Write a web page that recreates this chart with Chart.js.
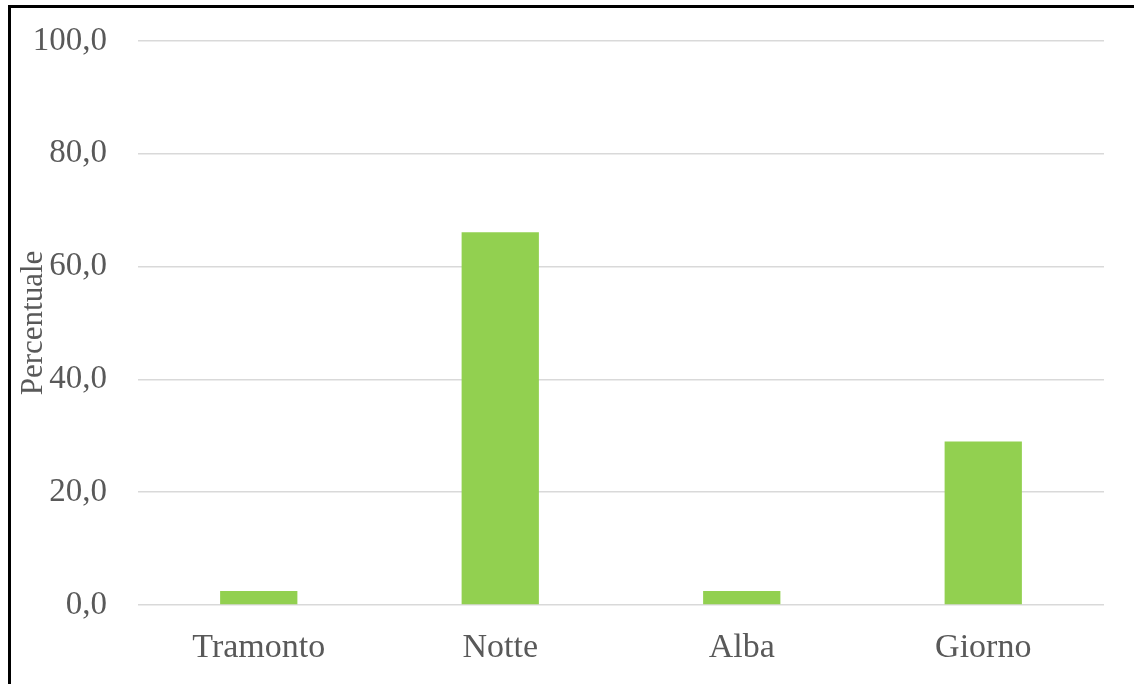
<!DOCTYPE html>
<html>
<head>
<meta charset="utf-8">
<script src="https://cdn.jsdelivr.net/npm/chart.js@4/dist/chart.umd.min.js"></script>
<style>
  html, body { margin: 0; padding: 0; background: #fff; overflow: hidden; }
  .frame {
    position: absolute; left: 8px; top: 5px; width: 1200px; height: 760px;
    border-left: 3px solid #000; border-top: 3px solid #000;
  }
  .wrap { position: absolute; left: 0; top: 0; width: 1134px; height: 684px; }
</style>
</head>
<body>
<div class="frame"></div>
<div class="wrap"><canvas id="timeChart"></canvas></div>
<script>
const categories = ["Tramonto", "Notte", "Alba", "Giorno"];
const percentages = [2.5, 66.1, 2.5, 29.0];
const yTicks = [0, 20, 40, 60, 80, 100];

const serif = '"Liberation Serif", "Times New Roman", serif';
const grey = '#595959';

const ctx = document.getElementById('timeChart').getContext('2d');

const timeChart = new Chart(ctx, {
    type: 'bar',
    data: {
        labels: categories,
        datasets: [
            {
                label: "Percentuale",
                data: percentages,
                backgroundColor: "#92d050",
                borderWidth: 0,
                barPercentage: 0.32,
                categoryPercentage: 1
            }
        ]
    },
    options: {
        responsive: true,
        maintainAspectRatio: false,
        animation: false,
        layout: {
            padding: { top: 41, right: 30, bottom: 0, left: 0 }
        },
        plugins: {
            legend: { display: false },
            tooltip: { enabled: false }
        },
        scales: {
            x: {
                grid: { display: false },
                border: { display: false },
                ticks: {
                    color: grey,
                    padding: 15,
                    font: { family: serif, size: 34 }
                },
                afterFit: (scale) => { scale.height = 79; }
            },
            y: {
                min: 0,
                max: 100,
                afterBuildTicks: (scale) => {
                    scale.ticks = yTicks.map(v => ({ value: v }));
                },
                grid: {
                    color: '#d9d9d9',
                    lineWidth: 1.5,
                    drawTicks: false
                },
                border: { display: false },
                ticks: {
                    color: grey,
                    padding: 31,
                    font: { family: serif, size: 33 },
                    callback: (v) => v.toFixed(1).replace('.', ',')
                },
                title: {
                    display: true,
                    text: "Percentuale",
                    color: grey,
                    padding: { top: 15, bottom: 0 },
                    font: { family: serif, size: 31 }
                },
                afterFit: (scale) => {
                    scale.width = 138;
                    // keep the top and bottom edges fixed by layout padding
                    scale.paddingTop = 0;
                    scale.paddingBottom = 0;
                }
            }
        }
    }
});
</script>
</body>
</html>
